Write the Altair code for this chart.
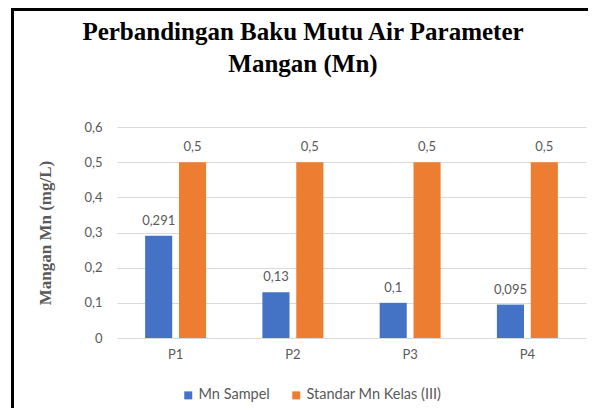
import altair as alt
import pandas as pd

categories = ["P1", "P2", "P3", "P4"]
mn_sampel = [0.291, 0.13, 0.1, 0.095]
standar = [0.5, 0.5, 0.5, 0.5]
series = ["Mn Sampel", "Standar Mn Kelas (III)"]
colors = ["#4472C4", "#ED7D31"]
y_ticks = [0, 0.1, 0.2, 0.3, 0.4, 0.5, 0.6]
title_lines = ["Perbandingan Baku Mutu Air Parameter", "Mangan (Mn)"]

rows = []
for c, a, b in zip(categories, mn_sampel, standar):
    rows.append({"cat": c, "series": series[0], "value": a})
    rows.append({"cat": c, "series": series[1], "value": b})
df = pd.DataFrame(rows)

GRAY = "#595959"

base = alt.Chart(df).transform_calculate(
    label="replace(toString(datum.value), '.', ',')"
).encode(
    x=alt.X("cat:N", sort=categories,
            scale=alt.Scale(paddingInner=0.48, paddingOuter=0.24),
            axis=alt.Axis(title=None, labelAngle=0, ticks=False, domain=False,
                          labelPadding=10, labelFont="Lato", labelFontSize=13,
                          labelColor=GRAY)),
    xOffset=alt.XOffset("series:N", sort=series,
                        scale=alt.Scale(paddingInner=0.2, paddingOuter=0)),
    y=alt.Y("value:Q",
            scale=alt.Scale(domain=[0, 0.6]),
            axis=alt.Axis(values=y_ticks, ticks=False, domain=False,
                          labelOverlap=False,
                          labelExpr="datum.value == 0 ? '0' : replace(format(datum.value, '.1f'), '.', ',')",
                          labelFont="Lato", labelFontSize=13, labelColor=GRAY,
                          labelPadding=15, gridColor="#D9D9D9", gridWidth=1,
                          title="Mangan Mn (mg/L)", titleFont="Liberation Serif",
                          titleFontSize=17, titleFontWeight="bold", titleColor=GRAY,
                          titleX=-72, titleY=105.5, titleAngle=-90,
                          titleAlign="center", titleBaseline="middle")),
)

bars = base.mark_bar().encode(
    color=alt.Color("series:N", sort=series,
                    scale=alt.Scale(domain=series, range=colors),
                    legend=alt.Legend(title=None, orient="none", direction="horizontal",
                                      legendX=64, legendY=261, symbolType="square",
                                      symbolSize=64, symbolStrokeWidth=0,
                                      labelFont="Lato", labelFontSize=14.5,
                                      labelColor=GRAY, columnPadding=19,
                                      labelOffset=3)),
)

texts = base.mark_text(baseline="alphabetic", dy=-11, font="Lato", fontSize=13,
                       color=GRAY).encode(
    text="label:N",
)

frame_df = pd.DataFrame({"k": [0]})
left_border = alt.Chart(frame_df).mark_rule(color="black", strokeWidth=3).encode(
    x=alt.value(-104.5), y=alt.value(-118.5), y2=alt.value(300)
)
top_border = alt.Chart(frame_df).mark_rule(color="black", strokeWidth=3).encode(
    x=alt.value(-106), x2=alt.value(500), y=alt.value(-117.5)
)

title1 = alt.Chart(frame_df).mark_text(
    text=title_lines[0], font="Liberation Serif", fontSize=25, fontWeight="bold",
    color="black", align="center", baseline="alphabetic"
).encode(x=alt.value(186), y=alt.value(-87.5))
title2 = alt.Chart(frame_df).mark_text(
    text=title_lines[1], font="Liberation Serif", fontSize=25, fontWeight="bold",
    color="black", align="center", baseline="alphabetic"
).encode(x=alt.value(186), y=alt.value(-55.5))

chart = alt.layer(bars, texts, left_border, top_border, title1, title2).properties(
    width=469, height=211,
    autosize=alt.AutoSizeParams(type="none"),
    padding={"left": 109, "top": 119, "right": 2, "bottom": 70},
    background="white",
).configure_view(stroke=None)

chart.save("out.html", embed_options={"renderer": "svg", "actions": False})
